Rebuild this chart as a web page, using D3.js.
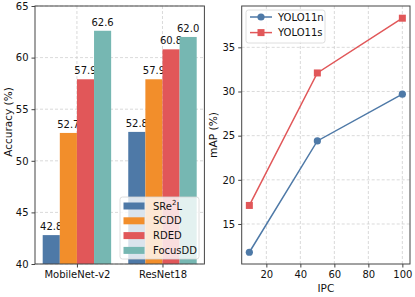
<!DOCTYPE html>
<html>
<head>
<meta charset="utf-8">
<script src="https://cdn.jsdelivr.net/npm/d3@7"></script>
<style>
  body { margin: 0; background: #fff; }
  text { font-family: "DejaVu Sans", sans-serif; fill: #111; }
</style>
</head>
<body>
<script>
// left panel: accuracy bars
var models = ["MobileNet-v2", "ResNet18"];
var methods = ["SRe²L", "SCDD", "RDED", "FocusDD"];
var accSRe2L = [42.8, 52.8];
var accSCDD = [52.7, 57.9];
var accRDED = [57.9, 60.8];
var accFocusDD = [62.6, 62.0];
var accTicks = [40, 45, 50, 55, 60, 65];

// right panel: mAP vs IPC
var ipc = [10, 50, 100];
var yolo11n = [11.8, 24.4, 29.7];
var yolo11s = [17.1, 32.1, 38.3];
var ipcTicks = [20, 40, 60, 80, 100];
var mapTicks = [15, 20, 25, 30, 35];

var barColors = ["#4e79a7", "#f28e2b", "#e15759", "#76b7b2"];
var spine = "#444";

var svg = d3.select("body").append("svg")
    .attr("width", 415)
    .attr("height", 297);

var plotTop = 6, plotBottom = 264;

// ---------- left ----------
var accSeries = [accSRe2L, accSCDD, accRDED, accFocusDD];
var xL = d3.scaleLinear().domain([-0.49, 1.49]).range([35, 204.4]);
var yL = d3.scaleLinear().domain([40, 65]).range([plotBottom, plotTop]);
var bw = 0.2;

var gL = svg.append("g");

// grid
gL.selectAll(".hg").data(accTicks).enter().append("line")
    .attr("x1", xL.range()[0]).attr("x2", xL.range()[1])
    .attr("y1", yL).attr("y2", yL)
    .attr("stroke", "#d0d0d0").attr("stroke-width", 0.8).attr("stroke-dasharray", "3,2");
gL.selectAll(".vg").data(models).enter().append("line")
    .attr("x1", function(d, i) { return xL(i); }).attr("x2", function(d, i) { return xL(i); })
    .attr("y1", plotTop).attr("y2", plotBottom)
    .attr("stroke", "#d0d0d0").attr("stroke-width", 0.8).attr("stroke-dasharray", "3,2");

accSeries.forEach(function(vals, k) {
  var off = (k - 1.5) * bw;
  gL.selectAll(".bar" + k).data(vals).enter().append("rect")
      .attr("x", function(d, i) { return xL(i + off - bw / 2); })
      .attr("width", xL(bw) - xL(0))
      .attr("y", function(d) { return yL(d); })
      .attr("height", function(d) { return plotBottom - yL(d); })
      .attr("fill", barColors[k]);
  gL.selectAll(".lab" + k).data(vals).enter().append("text")
      .attr("x", function(d, i) { return xL(i + off); })
      .attr("y", function(d) { return yL(d) - 5; })
      .attr("text-anchor", "middle")
      .attr("font-size", 10)
      .text(function(d) { return d.toFixed(1); });
});

// frame + axes
gL.append("rect").attr("x", xL.range()[0]).attr("y", plotTop)
    .attr("width", xL.range()[1] - xL.range()[0]).attr("height", plotBottom - plotTop)
    .attr("fill", "none").attr("stroke", spine).attr("stroke-width", 1);

var axL = gL.append("g").attr("transform", "translate(" + xL.range()[0] + ",0)")
    .call(d3.axisLeft(yL).tickValues(accTicks).tickSize(3.5).tickPadding(3));
var axB = gL.append("g").attr("transform", "translate(0," + plotBottom + ")")
    .call(d3.axisBottom(xL).tickValues([0, 1]).tickFormat(function(d) { return models[d]; })
      .tickSize(3.5).tickPadding(3));
[axL, axB].forEach(function(a) {
  a.select(".domain").remove();
  a.selectAll("line").attr("stroke", spine);
  a.selectAll("text").attr("font-size", 10).attr("font-family", "DejaVu Sans").attr("fill", "#111");
});

gL.append("text")
    .attr("transform", "translate(11.5,122) rotate(-90)")
    .attr("text-anchor", "middle").attr("font-size", 10.5)
    .text("Accuracy (%)");

// legend
var lgL = gL.append("g").attr("transform", "translate(120,197)");
lgL.append("rect").attr("width", 79).attr("height", 62).attr("rx", 2.5)
    .attr("fill", "#fff").attr("fill-opacity", 0.8)
    .attr("stroke", "#d5d5d5").attr("stroke-width", 0.8);
methods.forEach(function(m, k) {
  var cy = 9 + k * 14.8;
  lgL.append("rect").attr("x", 3.5).attr("y", cy - 3.5).attr("width", 21).attr("height", 7)
      .attr("fill", barColors[k]);
  var t = lgL.append("text").attr("x", 33).attr("y", cy).attr("dy", "0.35em").attr("font-size", 10);
  if (k === 0) {
    t.append("tspan").text("SRe");
    t.append("tspan").attr("font-size", 7).attr("dy", "-0.6em").text("2");
    t.append("tspan").attr("dy", "0.42em").text("L");
  } else {
    t.text(m);
  }
});

// ---------- right ----------
var xR = d3.scaleLinear().domain([5.5, 104.5]).range([241.7, 410]);
var yR = d3.scaleLinear().domain([10.47, 39.68]).range([plotBottom, plotTop]);
var gR = svg.append("g");

gR.selectAll(".hg").data(mapTicks).enter().append("line")
    .attr("x1", xR.range()[0]).attr("x2", xR.range()[1])
    .attr("y1", yR).attr("y2", yR)
    .attr("stroke", "#d0d0d0").attr("stroke-width", 0.8).attr("stroke-dasharray", "3,2");
gR.selectAll(".vg").data(ipcTicks).enter().append("line")
    .attr("x1", xR).attr("x2", xR)
    .attr("y1", plotTop).attr("y2", plotBottom)
    .attr("stroke", "#d0d0d0").attr("stroke-width", 0.8).attr("stroke-dasharray", "3,2");

var line = d3.line().x(function(d, i) { return xR(ipc[i]); }).y(function(d) { return yR(d); });

gR.append("path").datum(yolo11n).attr("d", line)
    .attr("fill", "none").attr("stroke", barColors[0]).attr("stroke-width", 1.5);
gR.selectAll(".pn").data(yolo11n).enter().append("circle")
    .attr("cx", function(d, i) { return xR(ipc[i]); })
    .attr("cy", function(d) { return yR(d); })
    .attr("r", 3.6).attr("fill", barColors[0]);

gR.append("path").datum(yolo11s).attr("d", line)
    .attr("fill", "none").attr("stroke", barColors[2]).attr("stroke-width", 1.5);
gR.selectAll(".ps").data(yolo11s).enter().append("rect")
    .attr("x", function(d, i) { return xR(ipc[i]) - 3.5; })
    .attr("y", function(d) { return yR(d) - 3.5; })
    .attr("width", 7).attr("height", 7).attr("fill", barColors[2]);

gR.append("rect").attr("x", xR.range()[0]).attr("y", plotTop)
    .attr("width", xR.range()[1] - xR.range()[0]).attr("height", plotBottom - plotTop)
    .attr("fill", "none").attr("stroke", spine).attr("stroke-width", 1);

var axRL = gR.append("g").attr("transform", "translate(" + xR.range()[0] + ",0)")
    .call(d3.axisLeft(yR).tickValues(mapTicks).tickSize(3.5).tickPadding(3));
var axRB = gR.append("g").attr("transform", "translate(0," + plotBottom + ")")
    .call(d3.axisBottom(xR).tickValues(ipcTicks).tickSize(3.5).tickPadding(3));
[axRL, axRB].forEach(function(a) {
  a.select(".domain").remove();
  a.selectAll("line").attr("stroke", spine);
  a.selectAll("text").attr("font-size", 10).attr("font-family", "DejaVu Sans").attr("fill", "#111");
});

gR.append("text")
    .attr("transform", "translate(217," + ((plotTop + plotBottom) / 2) + ") rotate(-90)")
    .attr("text-anchor", "middle").attr("font-size", 10.7)
    .text("mAP (%)");
gR.append("text")
    .attr("x", (xR.range()[0] + xR.range()[1]) / 2).attr("y", 291.5)
    .attr("text-anchor", "middle").attr("font-size", 10.5)
    .text("IPC");

// legend
var lgR = gR.append("g").attr("transform", "translate(246,10)");
lgR.append("rect").attr("width", 79).attr("height", 33).attr("rx", 2.5)
    .attr("fill", "#fff").attr("fill-opacity", 0.8)
    .attr("stroke", "#d5d5d5").attr("stroke-width", 0.8);
[["YOLO11n", 0, "circle"], ["YOLO11s", 2, "square"]].forEach(function(e, k) {
  var cy = 7 + k * 15.6;
  lgR.append("line").attr("x1", 4).attr("x2", 26).attr("y1", cy).attr("y2", cy)
      .attr("stroke", barColors[e[1]]).attr("stroke-width", 1.5);
  if (e[2] === "circle") {
    lgR.append("circle").attr("cx", 15).attr("cy", cy).attr("r", 3.6).attr("fill", barColors[e[1]]);
  } else {
    lgR.append("rect").attr("x", 11.5).attr("y", cy - 3.5).attr("width", 7).attr("height", 7)
        .attr("fill", barColors[e[1]]);
  }
  lgR.append("text").attr("x", 32).attr("y", cy).attr("dy", "0.35em").attr("font-size", 10).text(e[0]);
});
</script>
</body>
</html>
